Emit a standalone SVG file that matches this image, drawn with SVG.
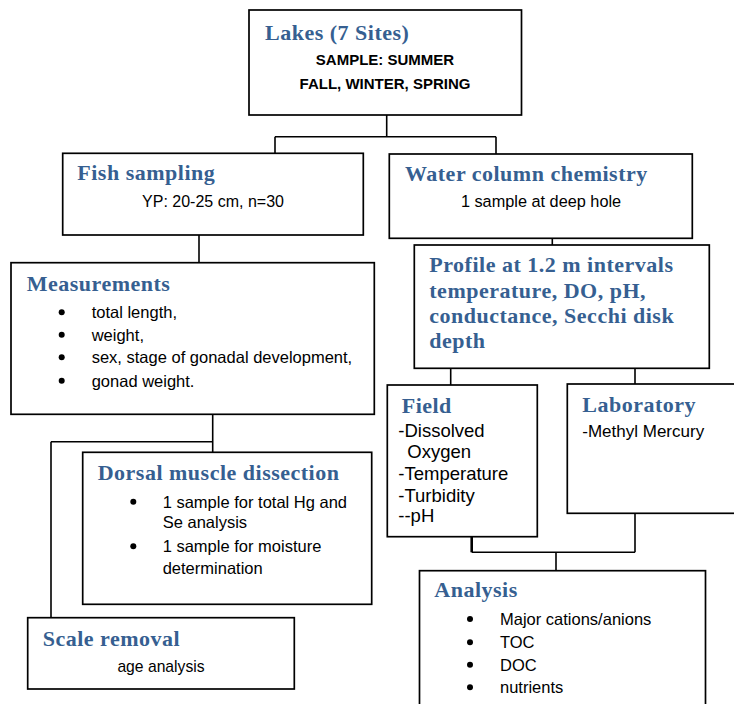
<svg xmlns="http://www.w3.org/2000/svg" width="734" height="704" viewBox="0 0 734 704">
<style>
.box{fill:#fff;stroke:#000;stroke-width:1.7}
.con{fill:none;stroke:#000;stroke-width:1.6}
.t{font-family:"Liberation Serif",serif;font-weight:bold;font-size:22px;letter-spacing:0.5px;fill:#365F91}
.b{font-family:"Liberation Sans",Arial,sans-serif;font-size:16.5px;fill:#000}
.bb{font-family:"Liberation Sans",Arial,sans-serif;font-size:15px;font-weight:bold;fill:#000}
.f{font-family:"Liberation Sans",Arial,sans-serif;font-size:18.5px;fill:#000}
.dot{fill:#000}
</style>
<rect width="734" height="704" fill="#fff"/>
<g id="connectors">
<path class="con" d="M386.7,115 V136.7 M275,136.7 H496 M275,136.7 V153.3 M496,136.7 V154"/>
<path class="con" d="M199,235 V262.7"/>
<path class="con" d="M552.3,238.3 V245"/>
<path class="con" d="M212.7,414.3 V452.3 M51,441.7 H212.7 M51,441.7 V617.7"/>
<path class="con" d="M450.7,368.3 V385 M635,368.3 V384"/>
<path class="con" d="M471.7,536.7 V552.3" style="stroke-width:2.6"/>
<path class="con" d="M471.7,552.3 H635 M635,513.3 V552.3 M556,552.3 V570.7"/>
</g>
<g id="lakes">
<rect class="box" x="249" y="10" width="272.5" height="105"/>
<text class="t" x="265" y="40">Lakes (7 Sites)</text>
<text class="bb" x="385" y="65" text-anchor="middle">SAMPLE: SUMMER</text>
<text class="bb" x="385" y="89" text-anchor="middle">FALL, WINTER, SPRING</text>
</g>
<g id="fish">
<rect class="box" x="62.7" y="153.3" width="300.6" height="81.7"/>
<text class="t" x="77.3" y="180">Fish sampling</text>
<text class="b" x="213" y="206.7" text-anchor="middle" style="font-size:16px">YP: 20-25 cm, n=30</text>
</g>
<g id="water">
<rect class="box" x="389.3" y="154" width="303" height="84.3"/>
<text class="t" x="405" y="181">Water column chemistry</text>
<text class="b" x="541" y="206.7" text-anchor="middle" style="font-size:16.3px">1 sample at deep hole</text>
</g>
<g id="measurements">
<rect class="box" x="11" y="262.7" width="363.3" height="151.6"/>
<text class="t" x="26.7" y="290.7">Measurements</text>
<circle class="dot" cx="61.7" cy="312.3" r="3"/>
<circle class="dot" cx="61.7" cy="334.7" r="3"/>
<circle class="dot" cx="61.7" cy="357.3" r="3"/>
<circle class="dot" cx="61.7" cy="380.7" r="3"/>
<text class="b" x="91.7" y="318.3">total length,</text>
<text class="b" x="91.7" y="340.7">weight,</text>
<text class="b" x="91.7" y="363.3">sex, stage of gonadal development,</text>
<text class="b" x="91.7" y="386.7">gonad weight.</text>
</g>
<g id="profile">
<rect class="box" x="414.3" y="245" width="295" height="123.3"/>
<text class="t" x="429.3" y="271.7">Profile at 1.2 m intervals</text>
<text class="t" x="429.3" y="298.3">temperature, DO, pH,</text>
<text class="t" x="429.3" y="322.7">conductance, Secchi disk</text>
<text class="t" x="429.3" y="348.3">depth</text>
</g>
<g id="dorsal">
<rect class="box" x="82.7" y="452.3" width="289" height="152"/>
<text class="t" x="97.7" y="480">Dorsal muscle dissection</text>
<circle class="dot" cx="133.3" cy="501.7" r="3"/>
<circle class="dot" cx="133.3" cy="546.3" r="3"/>
<text class="b" x="162.7" y="507.7">1 sample for total Hg and</text>
<text class="b" x="162.7" y="528.3">Se analysis</text>
<text class="b" x="162.7" y="552.3">1 sample for moisture</text>
<text class="b" x="162.7" y="574">determination</text>
</g>
<g id="scale">
<rect class="box" x="27.7" y="617.7" width="266.6" height="71.3"/>
<text class="t" x="42.7" y="645.7">Scale removal</text>
<text class="b" x="161" y="671.7" text-anchor="middle" style="font-size:15.7px">age analysis</text>
</g>
<g id="field">
<rect class="box" x="387.3" y="385" width="150" height="151.7"/>
<text class="t" x="401.7" y="413.3">Field</text>
<text class="f" x="398.3" y="437.3">-Dissolved</text>
<text class="f" x="407.3" y="458.3">Oxygen</text>
<text class="f" x="398.3" y="480">-Temperature</text>
<text class="f" x="398.3" y="501.7">-Turbidity</text>
<text class="f" x="398.3" y="521.7">--pH</text>
</g>
<g id="laboratory">
<rect class="box" x="567.3" y="384" width="180" height="129.3"/>
<text class="t" x="582.3" y="411.7">Laboratory</text>
<text class="b" x="582.3" y="437.3" style="font-size:17px">-Methyl Mercury</text>
</g>
<g id="analysis">
<rect class="box" x="419.5" y="570.7" width="286" height="150"/>
<text class="t" x="434.3" y="597.3">Analysis</text>
<circle class="dot" cx="470" cy="619" r="3"/>
<circle class="dot" cx="470" cy="642.3" r="3"/>
<circle class="dot" cx="470" cy="664.7" r="3"/>
<circle class="dot" cx="470" cy="687.3" r="3"/>
<text class="b" x="500" y="625">Major cations/anions</text>
<text class="b" x="500" y="648.3">TOC</text>
<text class="b" x="500" y="670.7">DOC</text>
<text class="b" x="500" y="693.3">nutrients</text>
</g>
</svg>
